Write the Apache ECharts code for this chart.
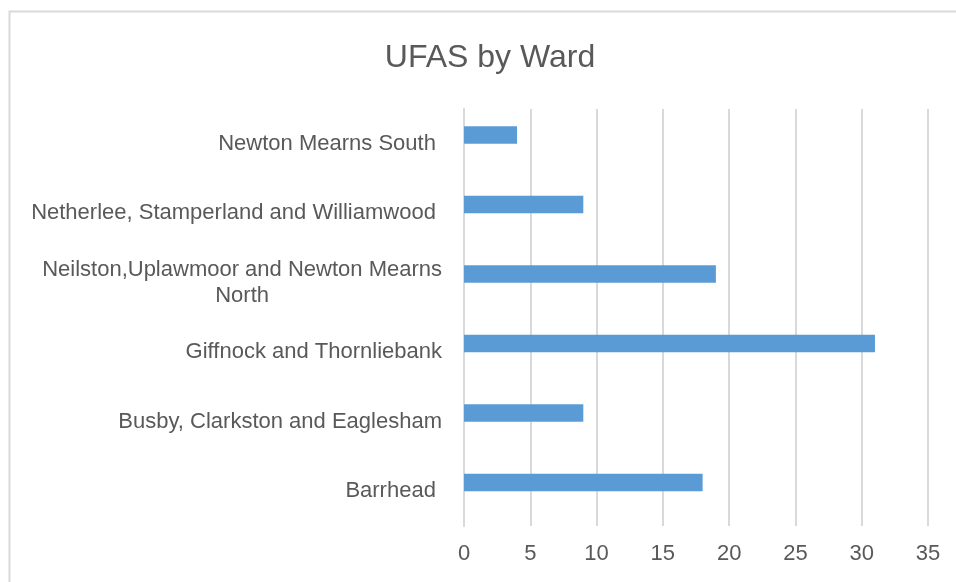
<!DOCTYPE html>
<html><head><meta charset="utf-8">
<script src="https://cdn.jsdelivr.net/npm/echarts@6/dist/echarts.min.js"></script>
<style>html,body{margin:0;padding:0;background:#fff}#c{width:956px;height:582px}</style>
</head><body><div id="c"></div>
<script>
const categories = ["Barrhead ", "Busby, Clarkston and Eaglesham", "Giffnock and Thornliebank", "Neilston,Uplawmoor and Newton Mearns\nNorth", "Netherlee, Stamperland and Williamwood ", "Newton Mearns South "];
const values = [18, 9, 31, 19, 9, 4];
const emptyValues = [null, null, null, null, null, null];
const xTicks = {min: 0, max: 35, interval: 5};

const chart = echarts.init(document.getElementById('c'), null, {renderer: 'canvas'});
const txt = '#595959';
const font = 'Liberation Sans';
chart.setOption({
  animation: false,
  backgroundColor: '#fff',
  title: {text: 'UFAS by Ward', left: 485, top: 37, textAlign: 'center',
    textStyle: {color: txt, fontSize: 32, fontWeight: 'normal', fontFamily: font}},
  graphic: [{type: 'rect', left: 7, top: 9, shape: {width: 1100, height: 1100},
    style: {fill: 'none', stroke: '#d9d9d9', lineWidth: 2}, silent: true}],
  grid: {left: 464, right: 28, top: 109, bottom: 56, containLabel: false},
  xAxis: {type: 'value', min: xTicks.min, max: xTicks.max, interval: xTicks.interval,
    axisLine: {show: false}, axisTick: {show: false},
    splitLine: {show: true, lineStyle: {color: '#d9d9d9', width: 2}},
    axisLabel: {color: txt, fontSize: 22, fontFamily: font, margin: 17}},
  yAxis: {type: 'category', data: categories,
    axisLine: {show: true, lineStyle: {color: '#d9d9d9', width: 2}}, axisTick: {show: false},
    axisLabel: {color: txt, fontSize: 22, fontFamily: font, margin: 22, lineHeight: 26,
      formatter: function (v) { return v.split('\n').map(s => '{c|' + s + '}').join('\n'); },
      rich: {c: {align: 'center', color: txt, fontSize: 22, fontFamily: font, lineHeight: 26}}}},
  series: [
    {type: 'bar', data: values, barWidth: 17.6, barGap: 0, itemStyle: {color: '#5b9bd5'}},
    {type: 'bar', data: emptyValues, barWidth: 17.6, barGap: 0}
  ]
});
</script></body></html>
